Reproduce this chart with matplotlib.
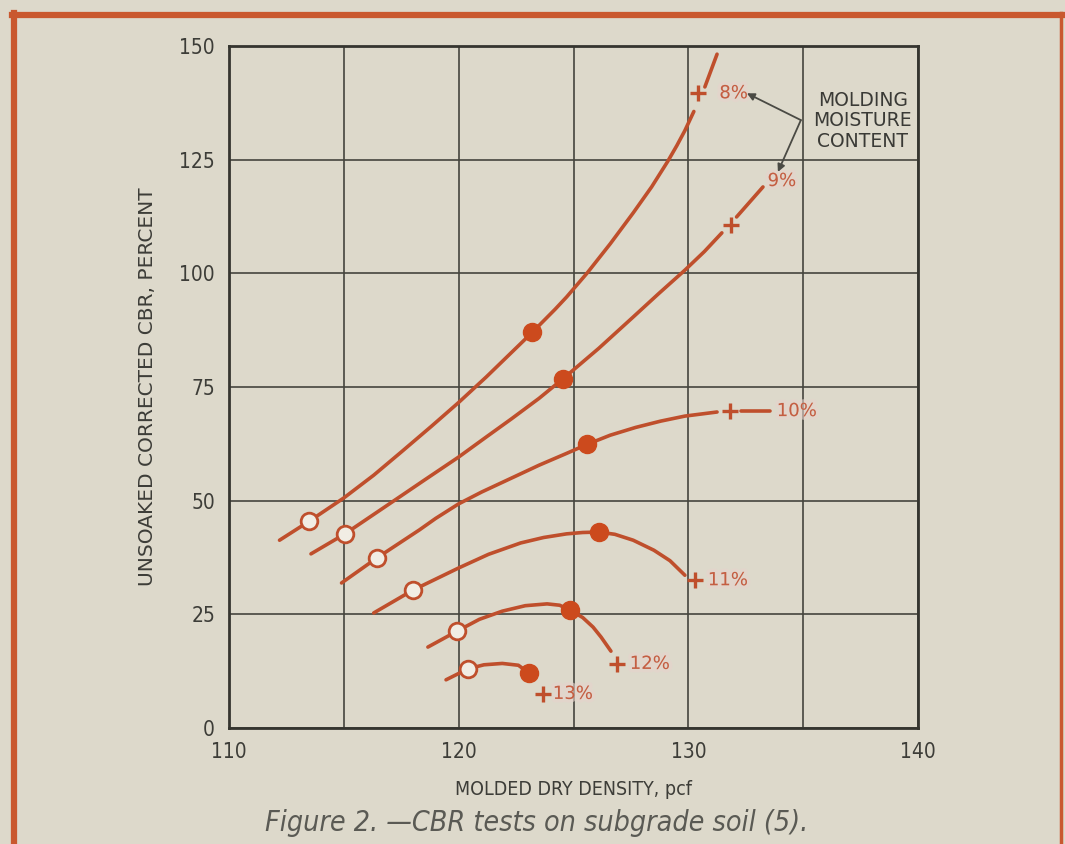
import matplotlib
matplotlib.use("Agg")
import matplotlib.pyplot as plt
from matplotlib.lines import Line2D
import matplotlib.patheffects as pe

# CBR curves, one per molding moisture content (density pcf, CBR %)
d8 = [112.2, 113.5, 115.0, 116.3, 117.5, 118.8, 120.0, 121.2, 122.2, 123.2,
      124.2, 124.7, 125.6, 126.6, 127.6, 128.4, 129.1, 129.5, 129.85, 130.24]
c8 = [41.3, 45.5, 50.6, 55.6, 60.7, 66.3, 71.6, 77.2, 82.1, 87.0,
      92.1, 94.8, 100.1, 106.5, 113.3, 119.0, 124.6, 128.1, 131.4, 135.6]
d8_tail = [130.72, 131.25]
c8_tail = [141.0, 148.2]

d9 = [113.57, 115.05, 117.1, 118.5, 120.0, 121.2, 122.3, 123.5, 124.54,
      126.1, 127.6, 128.7, 129.85, 130.7, 131.46]
c9 = [38.3, 42.7, 49.7, 54.5, 59.6, 64.0, 68.0, 72.5, 76.8,
      83.5, 90.4, 95.5, 100.7, 104.8, 108.9]
d9_tail = [132.1, 133.25]
c9_tail = [112.4, 119.0]

d10 = [114.9, 116.44, 118.3, 119.0, 120.0, 121.0, 122.4, 123.5, 124.7, 125.6,
       126.6, 127.7, 128.8, 129.85, 131.25]
c10 = [31.9, 37.4, 43.6, 46.1, 49.3, 51.9, 55.2, 57.8, 60.4, 62.4,
       64.4, 66.1, 67.5, 68.6, 69.5]
d10_tail = [132.3, 133.55]
c10_tail = [69.7, 69.7]

d11 = [116.3, 118.0, 120.0, 121.3, 122.7, 123.7, 124.7, 125.4, 126.1,
       126.8, 127.6, 128.5, 129.2, 129.85]
c11 = [25.3, 30.3, 35.2, 38.2, 40.7, 41.9, 42.7, 43.0, 43.1,
       42.6, 41.3, 39.1, 36.8, 33.6]

d12 = [118.66, 119.93, 120.9, 121.9, 122.9, 123.85, 124.4, 124.85, 125.4,
       125.85, 126.2, 126.63]
c12 = [17.8, 21.3, 23.9, 25.7, 26.9, 27.3, 27.0, 25.9, 24.3,
       22.2, 20.0, 16.9]

d13 = [119.45, 120.4, 121.1, 121.9, 122.6, 123.06]
c13 = [10.6, 13.0, 13.9, 14.2, 13.8, 12.1]

# test points
open_d = [113.5, 115.05, 116.44, 118.0, 119.93, 120.4]
open_c = [45.5, 42.7, 37.4, 30.3, 21.3, 13.0]
solid_d = [123.2, 124.54, 125.6, 126.1, 124.85, 123.06]
solid_c = [87.0, 76.8, 62.4, 43.1, 25.9, 12.1]
plus_d = [130.4, 131.85, 131.8, 130.3, 126.9, 123.67]
plus_c = [139.6, 110.6, 69.7, 32.5, 14.1, 7.5]

moist_labels = ["8%", "9%", "10%", "11%", "12%", "13%"]
label_d = [131.35, 133.45, 133.85, 130.85, 127.45, 124.1]
label_c = [139.6, 120.3, 69.7, 32.5, 14.1, 7.5]

x_ticks = [110, 115, 120, 125, 130, 135, 140]
x_labels = ["110", "", "120", "", "130", "", "140"]
y_ticks = [0, 25, 50, 75, 100, 125, 150]

bg = "#ddd9cb"
red = "#bf4f2c"
dot = "#cc4a1d"
ink = "#3d3d38"
narrow = dict(family="DejaVu Sans", stretch="condensed")

fig = plt.figure(figsize=(10.65, 8.44), dpi=100, facecolor=bg)
ax = fig.add_axes([229 / 1065, 1 - 728 / 844, 689 / 1065, 682 / 844])
ax.set_facecolor(bg)
ax.set_xlim(110, 140)
ax.set_ylim(0, 150)
ax.set_xticks(x_ticks)
ax.set_xticklabels(x_labels, fontsize=15, color=ink, **narrow)
ax.set_yticks(y_ticks)
ax.set_yticklabels([str(v) for v in y_ticks], fontsize=15, color=ink, **narrow)
ax.tick_params(length=0, pad=10)
ax.grid(True, color="#45453e", lw=1.2)
ax.set_axisbelow(True)
for s in ax.spines.values():
    s.set_color("#35352f")
    s.set_linewidth(2)

for xs, ys in [(d8, c8), (d8_tail, c8_tail), (d9, c9), (d9_tail, c9_tail),
               (d10, c10), (d10_tail, c10_tail), (d11, c11), (d12, c12), (d13, c13)]:
    ax.plot(xs, ys, color=red, lw=2.6, solid_capstyle="round",
            solid_joinstyle="round", zorder=3)

ax.plot(open_d, open_c, "o", ms=12, mfc="#f1ede4", mec=red, mew=2, ls="none", zorder=4)
ax.plot(solid_d, solid_c, "o", ms=13, mfc=dot, mec=dot, ls="none", zorder=4)
ax.plot(plus_d, plus_c, "+", ms=12, mew=2.4, color=red, ls="none", zorder=4)

glow = [pe.withStroke(linewidth=5, foreground="#e6d3cb", alpha=0.6)]
for t, x, y in zip(moist_labels, label_d, label_c):
    ax.text(x, y, t, color="#c45e42", fontsize=13, va="center", ha="left",
            zorder=5, path_effects=glow)

ax.text(137.6, 133.6, "MOLDING\nMOISTURE\nCONTENT", ha="center", va="center",
        fontsize=13.5, color="#3a3a36", linespacing=1.1, zorder=5)
for tip in [(132.55, 139.6), (133.9, 122.3)]:
    ax.annotate("", xy=tip, xytext=(134.9, 133.7),
                arrowprops=dict(arrowstyle="-|>", color="#4a4a44", lw=1.3,
                                mutation_scale=11, shrinkA=0, shrinkB=0), zorder=5)

ax.set_ylabel("UNSOAKED CORRECTED CBR, PERCENT", fontsize=14.5, color=ink, labelpad=16)
ax.set_xlabel("MOLDED DRY DENSITY, pcf", fontsize=14, color=ink, labelpad=13, **narrow)
fig.text(537 / 1065, 1 - 823 / 844, "Figure 2. \u2014CBR tests on subgrade soil (5).",
         style="italic", fontsize=20.5, color="#5a5a54", ha="center", va="center",
         weight="light", **narrow)

# orange frame round the figure
fig.add_artist(Line2D([12 / 1065, 1063 / 1065], [1 - 15 / 844] * 2, color="#c9582f", lw=4.5))
fig.add_artist(Line2D([14 / 1065] * 2, [0, 1 - 13 / 844], color="#c9582f", lw=4.5))
fig.add_artist(Line2D([1061 / 1065] * 2, [0, 1 - 13 / 844], color="#c9582f", lw=2.5))

fig.savefig("out.png", dpi=100, facecolor=bg)
